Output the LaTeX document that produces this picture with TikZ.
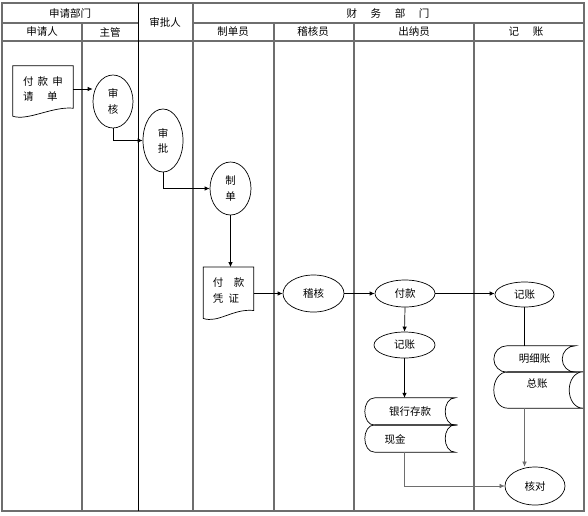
\documentclass[tikz,border=0pt]{standalone}
\usepackage{fontspec}
\setmainfont{Noto Sans CJK SC}
\usetikzlibrary{shapes.geometric,arrows.meta}
\definecolor{lanegray}{HTML}{6E6E6E}

\begin{document}
\begin{tikzpicture}[x=1pt, y=-1pt, font=\fontsize{10.5}{12}\selectfont,
    lane/.style={draw=lanegray, line width=1.2pt},
    oval/.style={ellipse, draw, line width=0.7pt, inner sep=0pt, align=center},
    box/.style={inner sep=0pt, align=left},
    flow/.style={line width=0.7pt, -{Latex[length=5pt,width=4.5pt]}},
    back/.style={draw=lanegray, line width=0.5pt, -{Latex[length=5pt,width=4.5pt]}}]
  \useasboundingbox (0,0) rectangle (588,515);
  % swimlanes
  \draw[lane] (2,3) rectangle (584,511);
  \draw[lane] (2,23) -- (138,23);
  \draw[lane] (193,23) -- (584,23);
  \draw[lane] (2,41) -- (584,41);
  \draw[lane] (193,3) -- (193,511);
  \draw[line width=1pt] (138,3) -- (138,511);
  \foreach \x in {82,274,354,474}
    \draw[lane] (\x,23) -- (\x,511);
  % headers
  \node (dpt1) at (70,13) {申请部门};
  \node (dpt2) at (388,13) {财\hspace{1.3em}务\hspace{1.3em}部\hspace{1.3em}门};
  \node (apr) at (165,22) {审批人};
  \node (h1) at (42,32) {申请人};
  \node (h2) at (110,32) {主管};
  \node (h3) at (233,32) {制单员};
  \node (h4) at (313,32) {稽核员};
  \node (h5) at (414,32) {出纳员};
  \node (h6) at (526,32) {记\hspace{1.3em}账};
  % steps
  \node[box, minimum width=60pt, minimum height=46pt] (req) at (43,89) {付\hspace{0.4em}款\hspace{0.4em}申\\[3pt]请\hspace{1.3em}单};
  \node[oval, minimum width=40pt, minimum height=53pt] (sh) at (113,101.5) {审\\[4pt]核};
  \node[oval, minimum width=40pt, minimum height=63pt] (sp) at (163,140.5) {审\\[3pt]批};
  \node[oval, minimum width=41pt, minimum height=53pt] (zd) at (230.5,188.5) {制\\[4pt]单};
  \node[box, minimum width=50pt, minimum height=47pt] (pz) at (228.5,290.75) {付\hspace{1em}款\\[4pt]凭\hspace{0.5em}证};
  \node[oval, minimum width=61pt, minimum height=37pt] (jh) at (313.5,293.5) {稽核};
  \node[oval, minimum width=60pt, minimum height=27pt] (fk) at (405,293.5) {付款};
  \node[oval, minimum width=59pt, minimum height=25pt] (jz2) at (524.5,294.5) {记账};
  \node[oval, minimum width=61pt, minimum height=26pt] (jz1) at (404.5,345) {记账};
  \node[oval, minimum width=60pt, minimum height=38pt] (hd) at (535,486) {核对};
  % ledgers
  \node[box, minimum width=90pt, minimum height=27pt] (yh) at (410,411.5) {银行存款};
  \node[box, minimum width=90pt, minimum height=27pt] (xj) at (410,438.5) {};
  \node (xjt) at (395,439) {现金};
  \node[box, minimum width=81pt, minimum height=26pt] (mx) at (534.5,359) {明细账};
  \node[box, minimum width=89pt, minimum height=36pt] (zz) at (538.5,390) {};
  \node (zzt) at (537,384) {总账};
  \foreach \n in {req,pz}
    \draw[line width=0.7pt] (\n.north west) -- (\n.north east) -- ([yshift=4pt]\n.south east)
      .. controls +(-21,-2) and +(15,5) .. ([yshift=-4pt]\n.south west) -- cycle;
  \foreach \n/\r in {yh/10,xj/10,mx/13,zz/14}
    \draw[line width=0.7pt] ([xshift=\r pt]\n.north west) -- (\n.north east)
      to[out=180,in=90] ([xshift=-\r pt]\n.east) to[out=-90,in=180] (\n.south east)
      -- ([xshift=\r pt]\n.south west) to[out=180,in=-90] (\n.west)
      to[out=90,in=180] cycle;
  % flow
  \draw[flow] (req.east) -- (req.east -| sh.west);
  \draw[flow] (sh.south) |- (sp.west);
  \draw[flow] (sp.south) |- (zd.west);
  \draw[flow] (zd.south) -- (zd.south |- pz.north);
  \draw[flow] (pz.east |- jh.west) -- (jh.west);
  \draw[flow] (jh.east) -- (fk.west);
  \draw[flow] (fk.east) -- (fk.east -| jz2.west);
  \draw[flow] (fk.south) -- (jz1.north);
  \draw[flow] (jz1.south) -- (jz1.south |- yh.north);
  \draw[line width=0.7pt] (jz2.south) -- (jz2.south |- mx.north);
  \draw[back] (jz2.south |- zz.south) -- (jz2.south |- hd.north);
  \draw[back] (jz1.south |- xj.south) |- (hd.west);
\end{tikzpicture}
\end{document}
